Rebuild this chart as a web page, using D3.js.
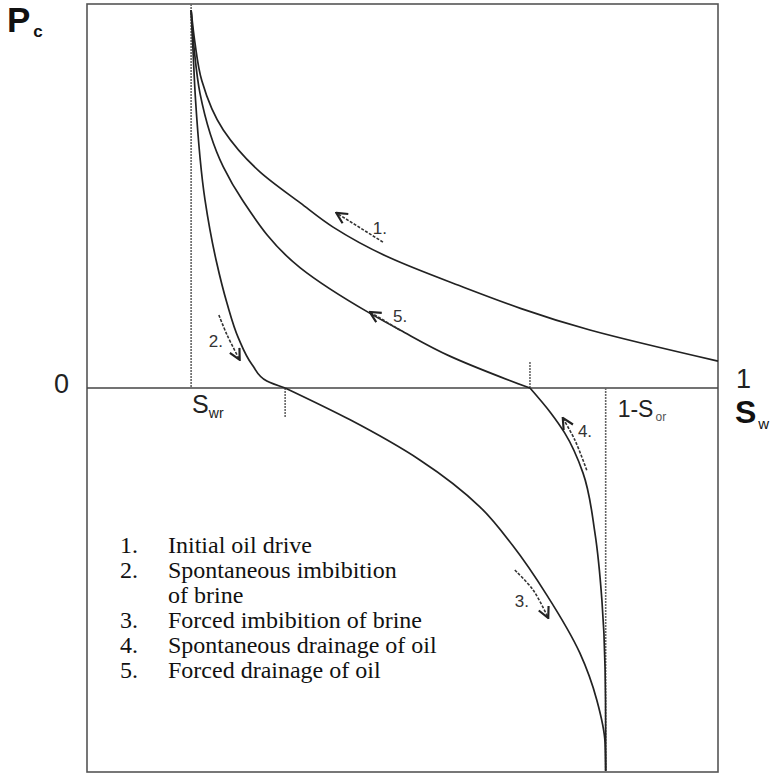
<!DOCTYPE html>
<html>
<head>
    <script src="https://d3js.org/d3.v7.min.js"></script>
    <style>
        body { margin: 0; background: #fff; }
        svg { display: block; }
        .sans { font-family: Arial, "Liberation Sans", sans-serif; }
        .serif { font-family: "Times New Roman", "Liberation Serif", serif; }
    </style>
</head>
<body>
    <script>
        // Sw / Pc pairs (Sw 0..1, Pc scaled to -1..1)
        const c1Sw = [0.165, 0.171, 0.182, 0.216, 0.274, 0.338, 0.390, 0.480, 0.575, 0.797, 1.0];
        const c1Pc = [0.984, 0.900, 0.800, 0.672, 0.563, 0.482, 0.419, 0.339, 0.276, 0.151, 0.070];

        const c5Sw = [0.165, 0.170, 0.179, 0.216, 0.246, 0.338, 0.448, 0.496, 0.575, 0.655, 0.702];
        const c5Pc = [0.984, 0.880, 0.768, 0.576, 0.490, 0.313, 0.195, 0.151, 0.083, 0.029, 0.0];

        const c2Sw = [0.165, 0.168, 0.172, 0.187, 0.205, 0.222, 0.240, 0.262, 0.285, 0.314];
        const c2Pc = [0.984, 0.880, 0.750, 0.490, 0.330, 0.220, 0.130, 0.060, 0.018, 0.0];

        const c3Sw = [0.314, 0.417, 0.528, 0.623, 0.675, 0.729, 0.781, 0.808, 0.821, 0.822];
        const c3Pc = [0.0, -0.083, -0.188, -0.310, -0.411, -0.540, -0.690, -0.813, -0.924, -0.997];

        const c4Sw = [0.822, 0.822, 0.821, 0.816, 0.805, 0.786, 0.757, 0.735, 0.702];
        const c4Pc = [-0.997, -0.898, -0.727, -0.552, -0.378, -0.221, -0.117, -0.065, 0.0];

        // key saturations
        const swr = 0.165;
        const oneMinusSor = 0.822;
        const imbZero = 0.314;   // end of spontaneous imbibition
        const drnZero = 0.702;   // end of spontaneous drainage

        // direction arrows: [Sw, Pc] points, tail -> head
        const arrowIds = ["1.", "2.", "3.", "4.", "5."];
        const arrowPts = [
            [[0.469, 0.380], [0.395, 0.456]],
            [[0.209, 0.190], [0.222, 0.138], [0.242, 0.073]],
            [[0.678, -0.474], [0.707, -0.526], [0.731, -0.599]],
            [[0.792, -0.214], [0.773, -0.135], [0.754, -0.078]],
            [[0.496, 0.151], [0.448, 0.198]]
        ];
        const arrowLabelAt = [[0.453, 0.401], [0.193, 0.106], [0.678, -0.570], [0.778, -0.128], [0.485, 0.172]];

        const legendNums = ["1.", "2.", "", "3.", "4.", "5."];
        const legendText = ["Initial oil drive", "Spontaneous imbibition", "of brine",
            "Forced imbibition of brine", "Spontaneous drainage of oil", "Forced drainage of oil"];

        const width = 784, height = 776;
        const x = d3.scaleLinear().domain([0, 1]).range([87, 718]);
        const y = d3.scaleLinear().domain([-1, 1]).range([772, 4]);

        const svg = d3.select("body").append("svg")
            .attr("width", width)
            .attr("height", height);

        svg.append("defs").append("marker")
            .attr("id", "head")
            .attr("viewBox", "0 0 12 12")
            .attr("refX", 11).attr("refY", 6)
            .attr("markerWidth", 13).attr("markerHeight", 13)
            .attr("markerUnits", "userSpaceOnUse")
            .attr("orient", "auto")
            .append("path")
            .attr("d", "M1,1 L11,6 L1,11")
            .attr("fill", "none")
            .attr("stroke", "#222")
            .attr("stroke-width", 2);

        // frame
        svg.append("rect")
            .attr("x", x(0)).attr("y", y(1))
            .attr("width", x(1) - x(0)).attr("height", y(-1) - y(1))
            .attr("fill", "none")
            .attr("stroke", "#555")
            .attr("stroke-width", 1.6);

        // Pc = 0 axis
        svg.append("line")
            .attr("x1", x(0)).attr("x2", x(1))
            .attr("y1", y(0)).attr("y2", y(0))
            .attr("stroke", "#444").attr("stroke-width", 1.6);

        // dotted guides
        const guides = [
            [swr, 1, swr, 0],
            [oneMinusSor, 0, oneMinusSor, -1],
            [imbZero, 0, imbZero, -0.078],
            [drnZero, 0.068, drnZero, 0]
        ];
        svg.selectAll("line.guide")
            .data(guides)
            .join("line")
            .attr("class", "guide")
            .attr("x1", d => x(d[0])).attr("y1", d => y(d[1]))
            .attr("x2", d => x(d[2])).attr("y2", d => y(d[3]))
            .attr("stroke", "#666")
            .attr("stroke-width", 1.6)
            .attr("stroke-dasharray", "2,1");

        // curves
        const curves = [[c1Sw, c1Pc], [c5Sw, c5Pc], [c2Sw, c2Pc], [c3Sw, c3Pc], [c4Sw, c4Pc]]
            .map(([s, p]) => s.map((v, i) => [v, p[i]]));
        const line = d3.line()
            .x(d => x(d[0]))
            .y(d => y(d[1]))
            .curve(d3.curveMonotoneY);
        const arrowLine = d3.line()
            .x(d => x(d[0]))
            .y(d => y(d[1]))
            .curve(d3.curveCatmullRom);

        svg.selectAll("path.curve")
            .data(curves)
            .join("path")
            .attr("class", "curve")
            .attr("d", line)
            .attr("fill", "none")
            .attr("stroke", "#222")
            .attr("stroke-width", 1.7);

        // arrows
        svg.selectAll("path.arrow")
            .data(arrowPts)
            .join("path")
            .attr("class", "arrow")
            .attr("d", arrowLine)
            .attr("fill", "none")
            .attr("stroke", "#333")
            .attr("stroke-width", 1.6)
            .attr("stroke-dasharray", "3,1.5")
            .attr("marker-end", "url(#head)");

        svg.selectAll("text.alab")
            .data(arrowIds)
            .join("text")
            .attr("class", "alab sans")
            .attr("x", (d, i) => x(arrowLabelAt[i][0]))
            .attr("y", (d, i) => y(arrowLabelAt[i][1]))
            .attr("font-size", 17)
            .attr("fill", "#333")
            .text(d => d);

        // axis labels
        const pc = svg.append("text").attr("class", "sans").attr("x", 7).attr("y", 32)
            .attr("fill", "#111");
        pc.append("tspan").attr("font-size", 35).attr("font-weight", "bold").text("P");
        pc.append("tspan").attr("font-size", 17).attr("font-weight", "bold").attr("dx", 3).attr("dy", 5).text("c");

        svg.append("text").attr("class", "sans")
            .attr("x", 54).attr("y", 393)
            .attr("font-size", 27).attr("fill", "#222")
            .text("0");

        svg.append("text").attr("class", "sans")
            .attr("x", 736).attr("y", 388)
            .attr("font-size", 27).attr("fill", "#222")
            .text("1");

        const sw = svg.append("text").attr("class", "sans").attr("x", 735).attr("y", 423)
            .attr("fill", "#111");
        sw.append("tspan").attr("font-size", 32).attr("font-weight", "bold").text("S");
        sw.append("tspan").attr("font-size", 15).attr("dy", 6).attr("dx", 2).text("w");

        const swrLab = svg.append("text").attr("class", "sans").attr("x", x(swr) + 1).attr("y", 413)
            .attr("fill", "#222");
        swrLab.append("tspan").attr("font-size", 25).text("S");
        swrLab.append("tspan").attr("font-size", 14).attr("dy", 5).text("wr");

        const sorLab = svg.append("text").attr("class", "sans").attr("x", x(oneMinusSor) + 12).attr("y", 417)
            .attr("fill", "#222");
        sorLab.append("tspan").attr("font-size", 23).text("1-S");
        sorLab.append("tspan").attr("font-size", 12).attr("dy", 4).attr("dx", 2).attr("fill", "#555").text("or");

        // legend
        const leg = svg.append("g").attr("class", "serif");
        leg.selectAll("text.num")
            .data(legendNums)
            .join("text")
            .attr("class", "num")
            .attr("x", 120)
            .attr("y", (d, i) => 553 + i * 25)
            .attr("font-size", 24)
            .attr("fill", "#111")
            .text(d => d);
        leg.selectAll("text.item")
            .data(legendText)
            .join("text")
            .attr("class", "item")
            .attr("x", 168)
            .attr("y", (d, i) => 553 + i * 25)
            .attr("font-size", 24)
            .attr("fill", "#111")
            .text(d => d);
    </script>
</body>
</html>
